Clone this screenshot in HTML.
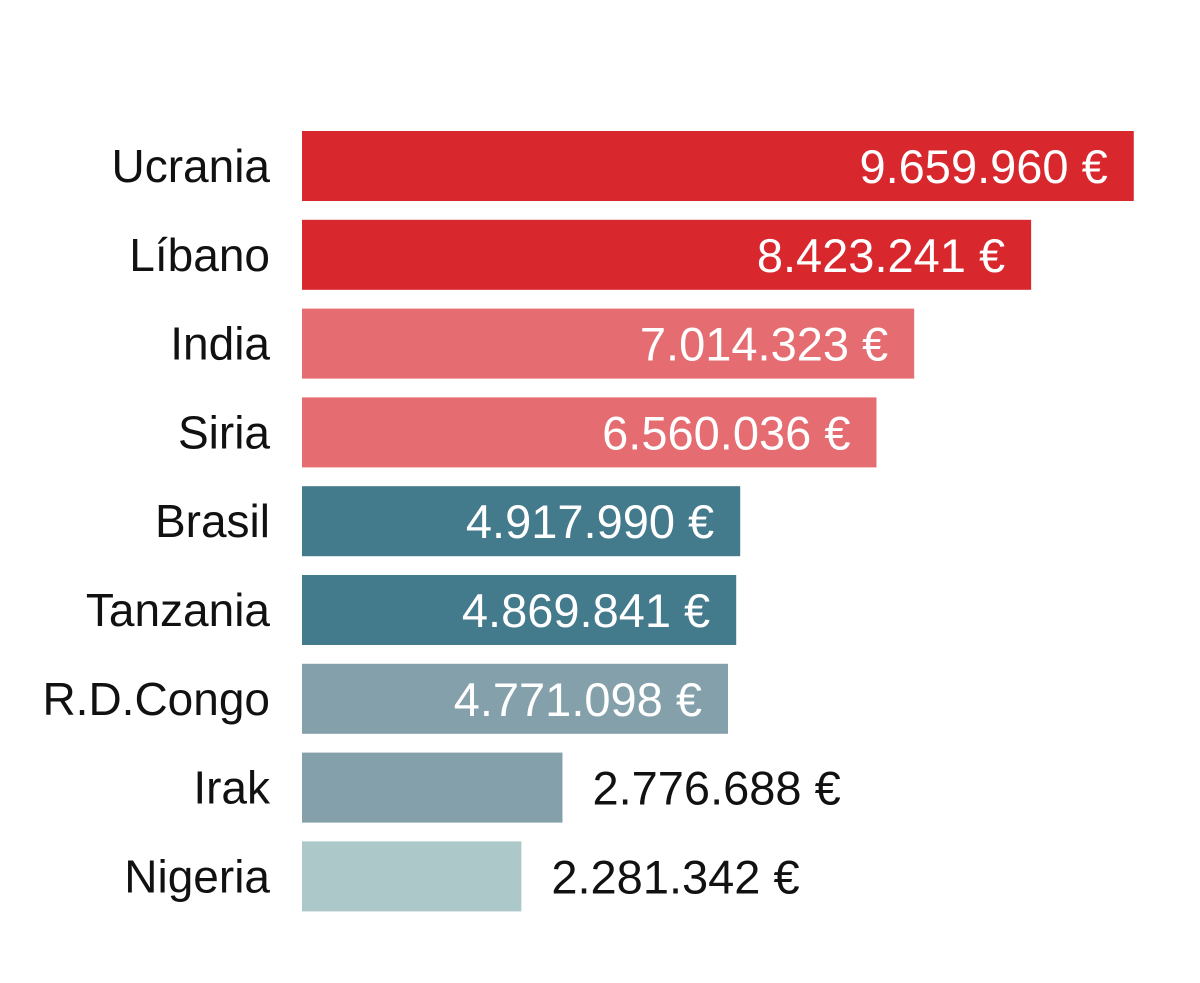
<!DOCTYPE html>
<html><head><meta charset="utf-8"><style>
html,body{margin:0;padding:0;background:#fff;}
svg{display:block;font-family:"Liberation Sans",sans-serif;}
</style></head><body>
<svg id="chart" width="1200" height="983"></svg>
<script>
const categories=["Ucrania","Líbano","India","Siria","Brasil","Tanzania","R.D.Congo","Irak","Nigeria"];
const values=[9659960,8423241,7014323,6560036,4917990,4869841,4771098,2776688,2281342];
const valueLabels=["9.659.960 €","8.423.241 €","7.014.323 €","6.560.036 €","4.917.990 €","4.869.841 €","4.771.098 €","2.776.688 €","2.281.342 €"];
const colors=["#d9272e","#d9272e","#e56d72","#e56d72","#437a8c","#437a8c","#84a0ab","#84a0ab","#adc8c9"];
const insideFlags=[true,true,true,true,true,true,true,false,false];
const NS="http://www.w3.org/2000/svg";
const svg=document.getElementById("chart");
const x0=302;
function xScale(v){return 30+v*8.3e-5;}
function yScale(i){return 131+i*88.8;}
const barH=70;
categories.forEach((c,i)=>{
  const y=yScale(i), w=xScale(values[i]);
  const r=document.createElementNS(NS,"rect");
  
  
  r.setAttribute("x",x0);r.setAttribute("y",y);r.setAttribute("width",w);r.setAttribute("height",barH);r.setAttribute("fill",colors[i]);
  svg.appendChild(r);
  const t=document.createElementNS(NS,"text");
  
  
  t.setAttribute("x",270);t.setAttribute("y",y+barH/2+16);t.setAttribute("text-anchor","end");
  t.setAttribute("font-size","46");t.setAttribute("fill","#111");
  t.textContent=c;svg.appendChild(t);
  const v=document.createElementNS(NS,"text");
  
  
  v.setAttribute("y",y+barH/2+17);v.setAttribute("font-size","47");
  if(insideFlags[i]){v.setAttribute("x",x0+w-26);v.setAttribute("text-anchor","end");v.setAttribute("fill","#fff");}
  else{v.setAttribute("x",x0+w+30);v.setAttribute("text-anchor","start");v.setAttribute("fill","#111");}
  v.textContent=valueLabels[i];svg.appendChild(v);
});
</script>
</body></html>
